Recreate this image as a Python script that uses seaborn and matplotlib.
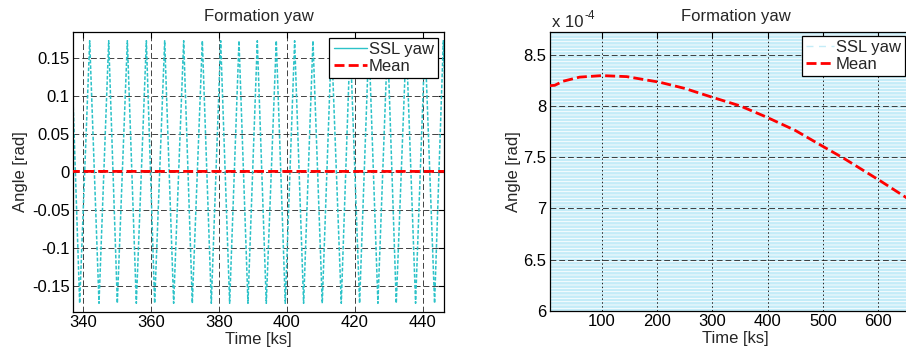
import matplotlib
matplotlib.use("Agg")
import matplotlib.pyplot as plt
from matplotlib.lines import Line2D
from matplotlib.ticker import FuncFormatter, FixedLocator
import seaborn as sns

# ---------------- data ----------------
# SSL yaw: successive extremes of the oscillation (time in ks, angle in rad)
yaw_time = [336.5, 339.02, 341.97, 344.71, 347.56, 350.10, 353.05, 355.69,
            358.64, 361.08, 364.03, 366.67, 369.62, 372.16, 375.11, 377.75,
            380.50, 383.14, 385.89, 388.53, 391.28, 393.92, 396.86, 399.51,
            402.26, 404.90, 407.65, 410.39, 413.10, 415.98, 418.60, 421.37,
            424.10, 426.76, 429.60, 432.16, 435.10, 437.84, 440.60, 443.43,
            446.00, 448.70]
yaw_angle = [0.173, -0.173, 0.173, -0.173, 0.173, -0.173, 0.173, -0.173,
             0.173, -0.173, 0.173, -0.173, 0.173, -0.173, 0.173, -0.173,
             0.173, -0.173, 0.173, -0.173, 0.173, -0.173, 0.173, -0.173,
             0.173, -0.173, 0.173, -0.173, 0.173, -0.173, 0.173, -0.173,
             0.173, -0.173, 0.173, -0.173, 0.173, -0.173, 0.173, -0.173,
             0.173, -0.173]

# SSL yaw envelope over the whole run (covers the zoomed panel)
env_time = [6.5, 690.0]
env_low = [-0.173, -0.173]
env_high = [0.173, 0.173]

# Mean yaw (rad)
mean_time = [6.5, 15, 30, 60, 100, 145, 205, 250, 299, 350, 398, 450, 498,
             537, 567, 603, 652]
mean_angle = [8.197e-4, 8.20e-4, 8.24e-4, 8.28e-4, 8.295e-4, 8.285e-4,
              8.23e-4, 8.17e-4, 8.085e-4, 8.00e-4, 7.89e-4, 7.76e-4,
              7.61e-4, 7.49e-4, 7.39e-4, 7.27e-4, 7.10e-4]

left_xticks = [340, 360, 380, 400, 420, 440]
left_yticks = [-0.15, -0.1, -0.05, 0.0, 0.05, 0.1, 0.15]
right_xticks = [100, 200, 300, 400, 500, 600]
right_yticks = [6e-4, 6.5e-4, 7e-4, 7.5e-4, 8e-4, 8.5e-4]

title = "Formation yaw"
xlabel = "Time [ks]"
ylabel = "Angle [rad]"
series_labels = ["SSL yaw", "Mean"]

# ---------------- style ----------------
sns.set_style("white")
plt.rcParams["font.family"] = ["Liberation Sans", "DejaVu Sans"]
plt.rcParams["hatch.linewidth"] = 0.6

CYAN = "#2cc2c8"
LIGHT_CYAN = "#c4ecf8"
RED = "#ff0000"
FS = 12

fig = plt.figure(figsize=(9.06, 3.52), dpi=100)
W, H = 906.0, 352.0
ax1 = fig.add_axes([73 / W, 40 / H, 371 / W, 280 / H])
ax2 = fig.add_axes([550 / W, 41 / H, 371 / W, 279 / H])

red_dash = (0, (3.6, 1.5))


def style_axes(ax):
    for s in ax.spines.values():
        s.set_visible(True)
        s.set_color("black")
        s.set_linewidth(0.9)
    ax.tick_params(direction="in", length=4, width=0.8, top=True, right=True,
                   labelsize=FS, pad=2.5, colors="black")
    ax.set_axisbelow("line")
    ax.set_title(title, fontsize=FS, pad=8)
    ax.set_xlabel(xlabel, fontsize=FS, labelpad=1)
    ax.set_ylabel(ylabel, fontsize=FS)


def make_legend(ax, handles, x_left, y_top, hlen):
    leg = ax.legend(handles, series_labels, loc="upper left",
                    bbox_to_anchor=(x_left, y_top),
                    fontsize=FS, frameon=True, fancybox=False, framealpha=1,
                    edgecolor="black", borderpad=0.25, labelspacing=0.12,
                    handlelength=hlen, handletextpad=0.1, borderaxespad=0)
    leg.get_frame().set_linewidth(0.9)
    return leg


# ---------------- left panel ----------------
sns.lineplot(x=yaw_time, y=yaw_angle, ax=ax1, color=CYAN, linewidth=1.1,
             linestyle=(0, (2.4, 1.2)), sort=False, errorbar=None, zorder=2)
sns.lineplot(x=mean_time, y=mean_angle, ax=ax1, color=RED, linewidth=2.0,
             linestyle=red_dash, sort=False, errorbar=None, zorder=3)
ax1.set_xlim(337.06, 446.2)
ax1.set_ylim(-0.1845, 0.1845)
ax1.xaxis.set_major_locator(FixedLocator(left_xticks))
ax1.yaxis.set_major_locator(FixedLocator(left_yticks))
ax1.yaxis.set_major_formatter(FuncFormatter(lambda v, p: f"{round(v, 4):g}"))
ax1.grid(True, color="#222222", linestyle=(0, (7, 3.5)), linewidth=0.6)
style_axes(ax1)
ax1.yaxis.set_label_coords(-0.12, 0.5)

h1 = [Line2D([], [], color=CYAN, linewidth=1.0),
      Line2D([], [], color=RED, linewidth=2.0, linestyle=red_dash)]
make_legend(ax1, h1, (329.5 - 73) / 371, 1 - 5.7 / 280, 2.0)

# ---------------- right panel ----------------
ax2.fill_between(env_time, env_low, env_high, facecolor=LIGHT_CYAN,
                 edgecolor="white", hatch="-----", linewidth=0, zorder=1)
sns.lineplot(x=yaw_time, y=yaw_angle, ax=ax2, color=LIGHT_CYAN, linewidth=0.9,
             linestyle=(0, (5, 4)), sort=False, errorbar=None, zorder=0.5)
sns.lineplot(x=mean_time, y=mean_angle, ax=ax2, color=RED, linewidth=2.0,
             linestyle=red_dash, sort=False, errorbar=None, zorder=3)
ax2.set_xlim(6.5, 677)
ax2.set_ylim(6e-4, 8.72e-4)
ax2.xaxis.set_major_locator(FixedLocator(right_xticks))
ax2.yaxis.set_major_locator(FixedLocator(right_yticks))
ax2.yaxis.set_major_formatter(FuncFormatter(lambda v, p: f"{round(v * 1e4, 3):g}"))
ax2.xaxis.grid(True, color="#222222", linestyle=(0, (1.5, 2.5)), linewidth=0.7)
ax2.yaxis.grid(True, color="#222222", linestyle=(0, (7, 3.5)), linewidth=0.6)
style_axes(ax2)
ax2.yaxis.set_label_coords(-0.078, 0.5)
ax2.text(0.0046, 1.019, "x 10", transform=ax2.transAxes, fontsize=FS,
         va="baseline", ha="left")
ax2.text(0.092, 1.048, "-4", transform=ax2.transAxes, fontsize=8.5,
         va="baseline", ha="left")

h2 = [Line2D([], [], color=LIGHT_CYAN, linewidth=1.0, linestyle=(0, (5, 4))),
      Line2D([], [], color=RED, linewidth=2.0, linestyle=red_dash)]
make_legend(ax2, h2, (801.5 - 550) / 371, 1 - 4.0 / 279, 1.7)

fig.savefig("out.png", dpi=100)
